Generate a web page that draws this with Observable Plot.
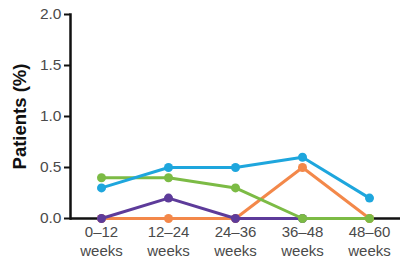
<!DOCTYPE html>
<html><head><meta charset="utf-8">
<script src="https://cdn.jsdelivr.net/npm/d3@7"></script>
<script src="https://cdn.jsdelivr.net/npm/@observablehq/plot@0.6"></script>
<style>body{margin:0;background:#fff;font-family:Arial,"Liberation Sans",sans-serif;}</style>
</head><body><div id="chart"></div>
<script>
const periods = ["0–12", "12–24", "24–36", "36–48", "48–60"];
const orange = [0, 0, 0, 0.5, 0];
const purple = [0, 0.2, 0, 0, null];
const green = [0.4, 0.4, 0.3, 0, 0];
const blue = [0.3, 0.5, 0.5, 0.6, 0.2];
const yTicks = [0, 0.5, 1.0, 1.5, 2.0];

const seriesList = [
  {name: "orange", values: orange, color: "#f3884a"},
  {name: "purple", values: purple, color: "#5d3b9a"},
  {name: "green", values: green, color: "#7cbb45"},
  {name: "blue", values: blue, color: "#1ea6dd"}
];
const marks = [
  Plot.ruleY([0], {stroke: "#111", strokeWidth: 2.5}),
  Plot.frame({anchor: "left", stroke: "#111", strokeWidth: 2.5}),
  Plot.axisY({ticks: yTicks, tickFormat: d => d.toFixed(1), tickSize: 6, tickPadding: 3,
    fontSize: 15.5, fill: "#4a4a4a", stroke: "#111", strokeWidth: 2, label: null}),
  Plot.axisX({tickFormat: d => d + "\nweeks", tickSize: 0, tickPadding: 5,
    fontSize: 15, fill: "#4a4a4a", lineHeight: 1.27, label: null})
];
for (const s of seriesList) {
  const data = periods.map((p, i) => ({period: p, value: s.values[i]})).filter(d => d.value != null);
  marks.push(Plot.line(data, {x: "period", y: "value", stroke: s.color, strokeWidth: 3}));
  marks.push(Plot.dot(data, {x: "period", y: "value", fill: s.color, r: 4.5}));
}
marks.push(Plot.text(["Patients (%)"], {frameAnchor: "left", dx: -50, rotate: -90, textAnchor: "middle",
  fontSize: 18.5, fontWeight: "bold", fill: "#111"}));

const chart = Plot.plot({
  width: 400, height: 260,
  marginLeft: 70, marginRight: 0, marginTop: 14, marginBottom: 42,
  style: {fontFamily: "Arial, 'Liberation Sans', sans-serif", background: "#fff"},
  x: {type: "point", domain: periods, padding: 0.45},
  y: {domain: [0, 2]},
  marks
});
document.getElementById("chart").append(chart);
</script>
</body></html>
